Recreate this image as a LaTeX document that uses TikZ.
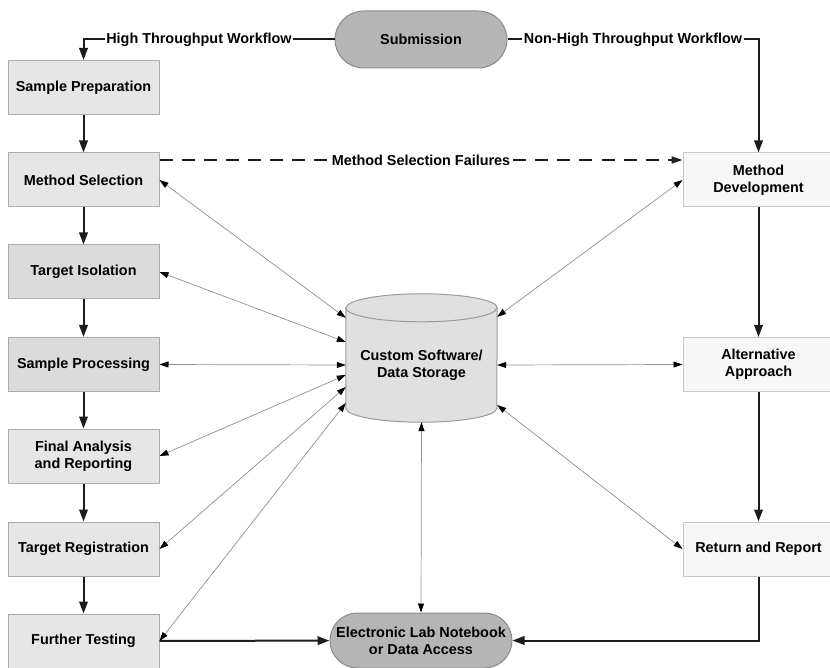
\documentclass[tikz,border=0pt]{standalone}
\usepackage{fontspec}
\setmainfont{Liberation Sans}
\usepackage{tikz}
\usepackage{xcolor}
\usetikzlibrary{arrows.meta,positioning,shapes.misc,calc,backgrounds}
\definecolor{ink}{HTML}{1C1C1C}
\definecolor{linkgray}{HTML}{909090}
\definecolor{boxedge}{HTML}{ABABAB}
\definecolor{boxfill}{HTML}{E6E6E6}
\definecolor{darkfill}{HTML}{DBDBDB}
\definecolor{devfill}{HTML}{F7F7F7}
\definecolor{devedge}{HTML}{C8C8C8}
\definecolor{termfill}{HTML}{B5B5B5}
\definecolor{termedge}{HTML}{8A8A8A}
\definecolor{storefill}{HTML}{E0E0E0}
\definecolor{storeedge}{HTML}{9A9A9A}
\newcommand{\diagfont}{\fontsize{14.4}{17}\selectfont\bfseries}
\tikzset{
  stepbox/.style={draw=boxedge,fill=boxfill,line width=1pt,
                  minimum width=151pt,minimum height=54pt,
                  align=center,font=\diagfont,inner sep=2pt},
  stepdark/.style={stepbox,fill=darkfill},
  devbox/.style={stepbox,draw=devedge,fill=devfill},
  termbox/.style={rounded rectangle,draw=termedge,fill=termfill,line width=1pt,
                  align=center,font=\diagfont,inner sep=2pt},
  storebody/.style={minimum width=151pt,minimum height=114pt,inner sep=0pt,
                    align=center,font=\diagfont},
  flowarr/.style={-{Triangle[length=12pt,width=8.5pt]},line width=2pt,draw=ink},
  failarr/.style={-{Triangle[length=11pt,width=7pt]},line width=1.8pt,draw=ink,
                  dash pattern=on 13pt off 9.1pt},
  linkarr/.style={{Triangle[length=9pt,width=6pt,color=black]}-{Triangle[length=9pt,width=6pt,color=black]},
                  line width=0.7pt,draw=linkgray},
  pathlabel/.style={fill=white,inner sep=1.5pt,font=\diagfont}
}
\begin{document}
\begin{tikzpicture}[x=1pt,y=-1pt]
  \useasboundingbox (0,0) rectangle (830,668);
  % high throughput column
  \node[stepbox] (prep) at (83.5,87.5) {Sample Preparation};
  \node[stepbox] (msel) at (83.5,180) {Method Selection};
  \node[stepdark] (iso) at (83.5,272) {Target Isolation};
  \node[stepdark] (proc) at (83.5,364.5) {Sample Processing};
  \node[stepbox] (final) at (83.5,456) {Final Analysis\\and Reporting};
  \node[stepbox] (reg) at (83.5,549) {Target Registration};
  \node[stepbox] (further) at (83.5,641) {Further Testing};
  % non-high throughput column
  \node[devbox] (mdev) at (758.5,180) {Method\\Development};
  \node[devbox] (alt) at (758.5,364.5) {Alternative\\Approach};
  \node[devbox] (ret) at (758.5,549) {Return and Report};
  % start and end
  \node[termbox,minimum width=176pt,minimum height=57pt] (sub) at (421,39.5) {Submission};
  \node[termbox,minimum width=186pt,minimum height=55pt] (eln) at (421,640.5)
    {Electronic Lab Notebook\\or Data Access};
  % storage cylinder
  \node[storebody] (store) at (421.5,365) {Custom Software/\\Data Storage};
  \begin{scope}[on background layer]
    \draw[fill=storefill,draw=storeedge,line width=1pt]
      (store.north west) -- ([yshift=14pt]store.south west)
      arc[start angle=180,end angle=360,x radius=75.5pt,y radius=14pt]
      -- (store.north east)
      arc[start angle=0,end angle=180,x radius=75.5pt,y radius=14pt] -- cycle;
    \draw[draw=storeedge,line width=1pt] (store.north west)
      arc[start angle=180,end angle=360,x radius=75.5pt,y radius=14pt];
  \end{scope}
  % workflow split
  \draw[flowarr] (sub.west) -| (prep.north)
    node[pathlabel,pos=0.27] {High Throughput Workflow};
  \draw[flowarr] (sub.east) -| (mdev.north)
    node[pathlabel,pos=0.25] {Non-High Throughput Workflow};
  % main flow
  \draw[flowarr] (prep) -- (msel);
  \draw[flowarr] (msel) -- (iso);
  \draw[flowarr] (iso) -- (proc);
  \draw[flowarr] (proc) -- (final);
  \draw[flowarr] (final) -- (reg);
  \draw[flowarr] (reg) -- (further);
  \draw[flowarr] (mdev) -- (alt);
  \draw[flowarr] (alt) -- (ret);
  \draw[flowarr] (further) -- (eln);
  \draw[flowarr] (ret.south) |- (eln.east);
  \draw[failarr] ([yshift=20pt]msel.east) -- ([yshift=20pt]mdev.west)
    node[pathlabel,midway] {Method Selection Failures};
  % data links
  \draw[linkarr] (msel.east) -- ([yshift=-10pt]store.north west);
  \draw[linkarr] (iso.east) -- ([yshift=23pt]store.west);
  \draw[linkarr] (proc.east) -- (store.west);
  \draw[linkarr] (final.east) -- ([yshift=-10pt]store.west);
  \draw[linkarr] (reg.east) -- ([yshift=-22pt]store.west);
  \draw[linkarr] (further.east) -- ([yshift=-38pt]store.west);
  \draw[linkarr] (mdev.west) -- ([yshift=-9pt]store.north east);
  \draw[linkarr] (alt.west) -- (store.east);
  \draw[linkarr] (ret.west) -- ([yshift=-40pt]store.east);
  \draw[linkarr] (store.south) -- (eln.north);
\end{tikzpicture}
\end{document}
